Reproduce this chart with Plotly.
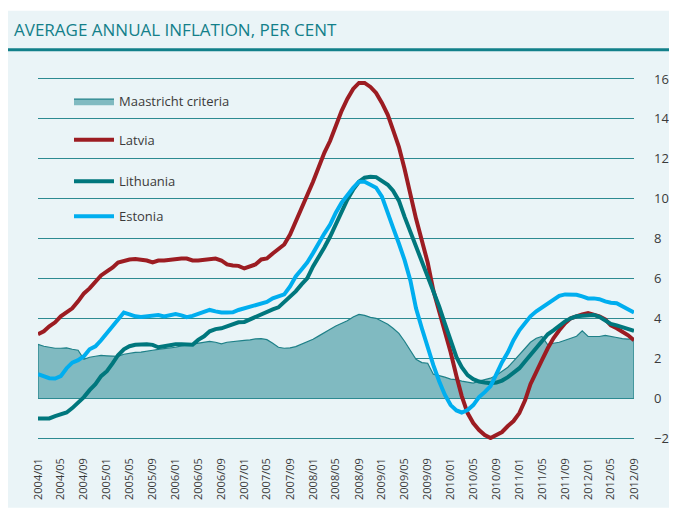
import pandas as pd
import plotly.graph_objects as go

months = pd.date_range("2004-01-01", periods=105, freq="MS")

maastricht = [2.7, 2.6, 2.55, 2.5, 2.5, 2.52, 2.45, 2.4, 1.95, 2.05, 2.1, 2.14, 2.12, 2.12, 2.09,
              2.2, 2.25, 2.29, 2.31, 2.34, 2.4, 2.44, 2.47, 2.5, 2.55, 2.62, 2.66, 2.7, 2.75, 2.8,
              2.84, 2.8, 2.72, 2.8, 2.84, 2.86, 2.89, 2.92, 2.97, 2.98, 2.93, 2.75, 2.55, 2.5, 2.52,
              2.58, 2.7, 2.84, 2.95, 3.12, 3.3, 3.45, 3.62, 3.75, 3.88, 4.07, 4.2, 4.15, 4.05, 4.0,
              3.85, 3.7, 3.5, 3.25, 2.85, 2.4, 1.95, 1.78, 1.75, 1.2, 1.14, 1.05, 0.95, 0.93, 0.85,
              0.8, 0.75, 0.85, 0.92, 1.0, 1.15, 1.35, 1.55, 1.85, 2.15, 2.5, 2.8, 3.0, 3.09, 2.67,
              2.75, 2.8, 2.9, 3.0, 3.1, 3.37, 3.09, 3.09, 3.09, 3.14, 3.1, 3.04, 2.98, 2.96, 3.0]

latvia = [3.2, 3.35, 3.6, 3.8, 4.1, 4.3, 4.5, 4.85, 5.25, 5.5, 5.8, 6.15, 6.35, 6.55, 6.8,
          6.9, 6.95, 6.97, 6.95, 6.9, 6.8, 6.9, 6.9, 6.93, 7.0, 7.0, 7.0, 6.9, 6.9, 6.95,
          7.0, 7.0, 6.9, 6.7, 6.65, 6.63, 6.5, 6.6, 6.7, 6.95, 7.0, 7.25, 7.5, 7.7, 8.2,
          8.85, 9.45, 10.1, 10.85, 11.6, 12.3, 12.9, 13.7, 14.4, 15.0, 15.5, 15.8, 15.8, 15.6, 15.3,
          14.8, 14.2, 13.45, 12.6, 11.5, 10.2, 9.0, 7.9, 6.8, 5.4, 4.4, 3.4, 2.3, 1.1, 0.1,
          -0.75, -1.25, -1.6, -1.85, -2.0, -1.85, -1.7, -1.4, -1.15, -0.75, -0.1, 0.7, 1.35, 1.9, 2.5,
          3.0, 3.4, 3.75, 4.0, 4.12, 4.2, 4.26, 4.2, 4.1, 3.95, 3.65, 3.5, 3.35, 3.15, 2.9]

lithuania = [-1.02, -1.02, -1.02, -0.9, -0.8, -0.72, -0.5, -0.25, 0.05, 0.4, 0.7, 1.1, 1.35, 1.75, 2.15,
             2.45, 2.6, 2.67, 2.7, 2.7, 2.67, 2.55, 2.6, 2.67, 2.7, 2.7, 2.68, 2.68, 2.92, 3.1,
             3.35, 3.46, 3.5, 3.6, 3.75, 3.8, 3.82, 3.95, 4.05, 4.22, 4.35, 4.45, 4.55, 4.8, 5.05,
             5.35, 5.7, 6.0, 6.6, 7.05, 7.55, 8.1, 8.7, 9.3, 9.95, 10.45, 10.85, 11.05, 11.1, 11.08,
             10.9, 10.7, 10.4, 9.9, 9.1, 8.35, 7.7, 6.9, 6.1, 5.35, 4.6, 3.75, 2.85, 2.05, 1.55,
             1.15, 0.95, 0.83, 0.78, 0.75, 0.78, 0.88, 1.05, 1.28, 1.5, 1.85, 2.15, 2.5, 2.85, 3.2,
             3.4, 3.65, 3.85, 4.0, 4.1, 4.13, 4.15, 4.17, 4.08, 3.9, 3.72, 3.65, 3.55, 3.45, 3.37]

estonia = [1.2, 1.1, 1.0, 0.98, 1.1, 1.5, 1.78, 1.9, 2.1, 2.45, 2.6, 2.9, 3.25, 3.6, 3.95,
           4.29, 4.2, 4.1, 4.07, 4.1, 4.17, 4.17, 4.1, 4.15, 4.21, 4.15, 4.06, 4.12, 4.22, 4.35,
           4.42, 4.35, 4.29, 4.29, 4.3, 4.42, 4.5, 4.55, 4.62, 4.75, 4.82, 5.0, 5.1, 5.2, 5.6,
           6.1, 6.45, 6.8, 7.27, 7.8, 8.25, 8.7, 9.3, 9.8, 10.2, 10.55, 10.85, 10.85, 10.7, 10.55,
           10.1, 9.35, 8.55, 7.75, 6.93, 5.9, 4.5, 3.5, 2.5, 1.65, 0.85, 0.17, -0.35, -0.62, -0.72,
           -0.6, -0.35, 0.05, 0.3, 0.6, 1.2, 1.8, 2.3, 2.9, 3.4, 3.75, 4.1, 4.35, 4.55, 4.75,
           4.9, 5.13, 5.2, 5.21, 5.18, 5.1, 5.0, 5.0, 4.96, 4.85, 4.78, 4.76, 4.62, 4.45, 4.29]

y_ticks = [-2, 0, 2, 4, 6, 8, 10, 12, 14, 16]

FONT = "Open Sans"
BG = "#EAF4F7"
GRID = "#2C8A91"

# page has an 8px body margin; work in reference-pixel coordinates and shift
OFF = 8
W, H = 677 - OFF, 518 - OFF
# plot area in reference pixels: x 38..634, y 73.3..440.3
PL, PR, PT, PB = 38, 634, 73.3, 440.3
L = PL - OFF
R = W - (PR - OFF)
T = PT - OFF
B = H - (PB - OFF)
pw, ph = PR - PL, PB - PT


def px_x(p):
    return (p - PL) / pw


def px_y(p):
    return (PB - p) / ph


fig = go.Figure()

area_x = [months[0]] + list(months) + [months[-1]]
area_y = [0] + maastricht + [0]
fig.add_trace(go.Scatter(
    x=area_x, y=area_y, name="Maastricht criteria", mode="lines",
    fill="toself", fillcolor="#80BAC1", line=dict(color="#1E8088", width=1.2),
    legend="legend"))
fig.add_trace(go.Scatter(x=months, y=latvia, name="Latvia", mode="lines",
                         line=dict(color="#9C1C22", width=4), legend="legend2"))
fig.add_trace(go.Scatter(x=months, y=lithuania, name="Lithuania", mode="lines",
                         line=dict(color="#00777D", width=4), legend="legend3"))
fig.add_trace(go.Scatter(x=months, y=estonia, name="Estonia", mode="lines",
                         line=dict(color="#00AEEF", width=4), legend="legend4"))

leg_common = dict(x=px_x(69), xanchor="left", yanchor="middle", bgcolor="rgba(0,0,0,0)",
                  itemwidth=40,
                  font=dict(family=FONT, size=13, color="#3a3a3a"))
layout_legends = {}
for key, py in [("legend", 101.5), ("legend2", 140), ("legend3", 181.5), ("legend4", 216.5)]:
    layout_legends[key] = dict(y=px_y(py), **leg_common)

fig.update_layout(
    width=W, height=H,
    margin=dict(l=L, r=R, t=T, b=B, autoexpand=False),
    paper_bgcolor="white",
    plot_bgcolor="rgba(0,0,0,0)",
    showlegend=True,
    font=dict(family=FONT, size=12, color="#3a3a3a"),
    xaxis=dict(
        type="date",
        range=[months[0], months[-1]],
        tickformat="%Y/%m", dtick="M4", tick0=months[0],
        tickangle=-90, showgrid=False, zeroline=False, showline=False,
        ticks="", ticklabelstandoff=15,
        tickfont=dict(family=FONT, size=11, color="#3a3a3a"),
    ),
    yaxis=dict(
        range=[-2.1, 16.3], side="right", tickvals=y_ticks,
        showgrid=True, gridcolor=GRID, gridwidth=1,
        zeroline=False, showline=False, ticks="", ticklabelstandoff=19,
        tickfont=dict(family=FONT, size=13, color="#3a3a3a"),
    ),
    shapes=[
        dict(type="rect", xref="paper", yref="paper", layer="below",
             x0=px_x(8), x1=px_x(690), y0=px_y(508), y1=px_y(11),
             fillcolor=BG, line=dict(width=0)),
        dict(type="line", xref="paper", yref="paper",
             x0=px_x(8), x1=px_x(690), y0=px_y(50), y1=px_y(50),
             line=dict(color="#12808A", width=3)),
    ],
    annotations=[
        dict(text="AVERAGE ANNUAL INFLATION, PER CENT", xref="paper", yref="paper",
             x=px_x(12), y=px_y(30), xanchor="left", yanchor="middle", showarrow=False,
             font=dict(family=FONT, size=17, color="#13808A")),
    ],
    **layout_legends,
)

fig.write_html("out.html")
